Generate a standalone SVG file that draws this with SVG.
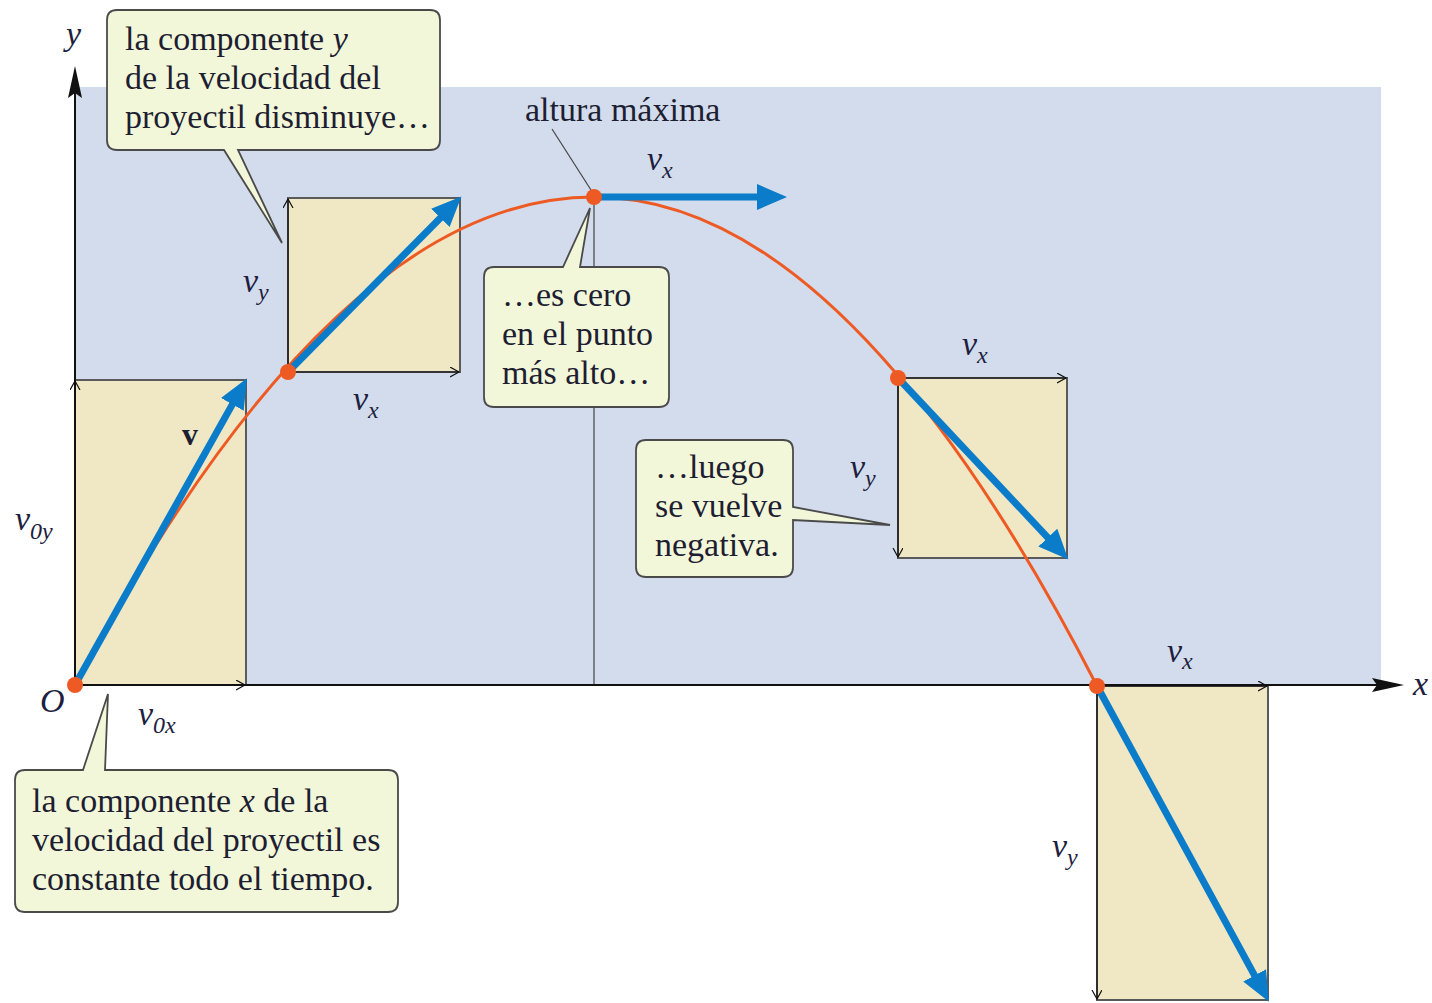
<svg xmlns="http://www.w3.org/2000/svg" width="1432" height="1003" viewBox="0 0 1432 1003">
<defs>
<style>
.bg{fill:#d3dcec}
.box{fill:#f0e8c5;stroke:#5a5a5a;stroke-width:2}
.comp{stroke:#111;stroke-width:1.2;fill:none;marker-end:url(#chev)}
.vec{stroke:#0a7cc9;stroke-width:7;fill:none;marker-end:url(#bhead)}
.traj{stroke:#ee5a24;stroke-width:3;fill:none}
.pt{fill:#ee5a24}
.axis{stroke:#111;stroke-width:2;fill:none;marker-end:url(#ahead)}
.call{fill:#f3f7d9;stroke:#4a4a4a;stroke-width:1.8}
.ct{font-family:"Liberation Serif",serif;font-size:34px;fill:#1e1e32}
.lab{font-family:"Liberation Serif",serif;font-style:italic;font-size:34px;fill:#1e1e40}
.sub{font-family:"Liberation Serif",serif;font-style:italic;font-size:24px;fill:#1e1e40}
.thin{stroke:#444;stroke-width:1.2;fill:none}
</style>
<marker id="chev" markerUnits="userSpaceOnUse" markerWidth="12" markerHeight="12" refX="9" refY="5" orient="auto">
<path d="M0,0 L9,5 L0,10" fill="none" stroke="#111" stroke-width="1.2"/>
</marker>
<marker id="bhead" markerUnits="userSpaceOnUse" markerWidth="34" markerHeight="28" refX="13" refY="13" orient="auto">
<path d="M0,0 L30,13 L0,26 Z" fill="#0a7cc9"/>
</marker>
<marker id="ahead" markerUnits="userSpaceOnUse" markerWidth="34" markerHeight="16" refX="8" refY="7" orient="auto">
<path d="M0,0 L32,7 L0,14 L5,7 Z" fill="#111"/>
</marker>
</defs>

<rect class="bg" x="75" y="87" width="1306" height="598"/>

<g id="boxes">
<g id="box1"><rect class="box" x="75" y="380" width="171" height="305"/></g>
<g id="box2"><rect class="box" x="288" y="198" width="172" height="174"/></g>
<g id="box4"><rect class="box" x="898" y="378" width="169" height="180"/></g>
<g id="box5"><rect class="box" x="1097" y="686" width="171" height="314"/></g>
</g>

<line class="thin" x1="594" y1="197" x2="594" y2="685"/>

<g id="axes">
<line class="axis" x1="75" y1="686" x2="75" y2="90"/>
<line class="axis" x1="75" y1="685" x2="1380" y2="685"/>
</g>

<g id="connectors">
<line class="comp" x1="75" y1="685" x2="75" y2="381"/>
<line class="comp" x1="75" y1="685" x2="245" y2="685"/>
<line class="comp" x1="288" y1="372" x2="288" y2="199"/>
<line class="comp" x1="288" y1="372" x2="459" y2="372"/>
<line class="comp" x1="898" y1="378" x2="1066" y2="378"/>
<line class="comp" x1="898" y1="378" x2="898" y2="557"/>
<line class="comp" x1="1097" y1="686" x2="1267" y2="686"/>
<line class="comp" x1="1097" y1="686" x2="1097" y2="999"/>
<path class="traj" d="M75,685 Q334.5,197 594,197 Q845.5,197 1097,686"/>
<line class="vec" x1="75" y1="685" x2="238.7" y2="393.1"/>
<line class="vec" x1="288" y1="372" x2="449.5" y2="208.7"/>
<line class="vec" x1="594" y1="197" x2="770" y2="197"/>
<line class="vec" x1="898" y1="378" x2="1056.7" y2="547.1"/>
<line class="vec" x1="1097" y1="686" x2="1260.8" y2="986.8"/>
<line class="thin" x1="552" y1="129" x2="591" y2="190"/>
</g>

<g id="points">
<circle class="pt" cx="75" cy="685" r="8"/>
<circle class="pt" cx="288" cy="372" r="8"/>
<circle class="pt" cx="594" cy="197" r="8"/>
<circle class="pt" cx="898" cy="378" r="8"/>
<circle class="pt" cx="1097" cy="686" r="8"/>
</g>

<g id="callout1">
<path class="call" d="M117,10 H430 Q440,10 440,20 V140 Q440,150 430,150 H238 L282,243 L224,150 H117 Q107,150 107,140 V20 Q107,10 117,10 Z"/>
<text class="ct" x="125" y="50">la componente <tspan font-style="italic">y</tspan></text>
<text class="ct" x="125" y="89">de la velocidad del</text>
<text class="ct" x="125" y="128">proyectil disminuye…</text>
</g>

<g id="callout2">
<path class="call" d="M494,267 H563 L590,208 L580,267 H659 Q669,267 669,277 V397 Q669,407 659,407 H494 Q484,407 484,397 V277 Q484,267 494,267 Z"/>
<text class="ct" x="502" y="306">…es cero</text>
<text class="ct" x="502" y="345">en el punto</text>
<text class="ct" x="502" y="384">más alto…</text>
</g>

<g id="callout3">
<path class="call" d="M646,440 H783 Q793,440 793,450 V507 L890,525 L793,520 V567 Q793,577 783,577 H646 Q636,577 636,567 V450 Q636,440 646,440 Z"/>
<text class="ct" x="655" y="478">…luego</text>
<text class="ct" x="655" y="517">se vuelve</text>
<text class="ct" x="655" y="556">negativa.</text>
</g>

<g id="callout4">
<path class="call" d="M25,770 H83 L108,694 L105,770 H388 Q398,770 398,780 V902 Q398,912 388,912 H25 Q15,912 15,902 V780 Q15,770 25,770 Z"/>
<text class="ct" x="32" y="812">la componente <tspan font-style="italic">x</tspan> de la</text>
<text class="ct" x="32" y="851">velocidad del proyectil es</text>
<text class="ct" x="32" y="890">constante todo el tiempo.</text>
</g>

<g id="labels">
<text class="ct" x="525" y="121">altura máxima</text>
<text class="lab" x="66" y="45">y</text>
<text class="lab" x="1413" y="695">x</text>
<text class="lab" x="40" y="712">O</text>
<text x="182" y="445" font-family="Liberation Serif,serif" font-weight="bold" font-size="32" fill="#1e1e32">v</text>
<text class="lab" x="15" y="530">v<tspan class="sub" dy="9">0y</tspan></text>
<text class="lab" x="138" y="725">v<tspan class="sub" dy="8">0x</tspan></text>
<text class="lab" x="243" y="292">v<tspan class="sub" dy="8">y</tspan></text>
<text class="lab" x="353" y="410">v<tspan class="sub" dy="8">x</tspan></text>
<text class="lab" x="647" y="170">v<tspan class="sub" dy="8">x</tspan></text>
<text class="lab" x="962" y="355">v<tspan class="sub" dy="8">x</tspan></text>
<text class="lab" x="850" y="478">v<tspan class="sub" dy="8">y</tspan></text>
<text class="lab" x="1167" y="662">v<tspan class="sub" dy="7">x</tspan></text>
<text class="lab" x="1052" y="857">v<tspan class="sub" dy="8">y</tspan></text>
</g>
</svg>
